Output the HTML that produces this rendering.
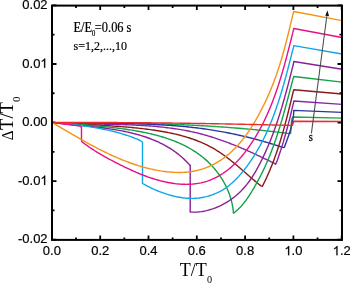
<!DOCTYPE html>
<html><head><meta charset="utf-8"><style>
html,body{margin:0;padding:0;background:#fff;}
body{width:350px;height:283px;overflow:hidden;position:relative;}
svg{position:absolute;left:0;top:0;will-change:transform;}
.sans{font-family:"Liberation Sans",sans-serif;font-size:13px;fill:#000;stroke:#000;stroke-width:0.2px;}
.serif{font-family:"Liberation Serif",serif;fill:#000;}
</style></head><body>
<svg width="350" height="283" viewBox="0 0 350 283">
<path d="M51.9,240V235.5M51.9,5.6V10.1M76.05,240V237.5M76.05,5.6V8.1M100.2,240V235.5M100.2,5.6V10.1M124.35,240V237.5M124.35,5.6V8.1M148.5,240V235.5M148.5,5.6V10.1M172.65,240V237.5M172.65,5.6V8.1M196.8,240V235.5M196.8,5.6V10.1M220.95,240V237.5M220.95,5.6V8.1M245.1,240V235.5M245.1,5.6V10.1M269.25,240V237.5M269.25,5.6V8.1M293.4,240V235.5M293.4,5.6V10.1M317.55,240V237.5M317.55,5.6V8.1M341.7,240V235.5M341.7,5.6V10.1M52,5.45H56.5M342,5.45H337.5M52,34.72H54.5M342,34.72H339.5M52,64H56.5M342,64H337.5M52,93.27H54.5M342,93.27H339.5M52,122.55H56.5M342,122.55H337.5M52,151.82H54.5M342,151.82H339.5M52,181.1H56.5M342,181.1H337.5M52,210.38H54.5M342,210.38H339.5M52,239.65H56.5M342,239.65H337.5" stroke="#000" stroke-width="1.8" fill="none"/>
<g fill="none" stroke-width="1.4" stroke-linejoin="round" stroke-linecap="butt">
<path d="M52.2,122.55 L53.7,122.71 L55.22,122.71 L56.73,122.7 L58.24,122.7 L59.75,122.7 L61.27,122.7 L62.78,122.69 L64.29,122.69 L65.8,122.69 L67.31,122.69 L68.83,122.69 L70.34,122.69 L71.85,122.69 L73.36,122.69 L74.88,122.69 L76.39,122.7 L77.9,122.7 L79.41,122.7 L80.92,122.71 L82.44,122.71 L83.95,122.71 L85.46,122.72 L86.97,122.72 L88.48,122.73 L90,122.74 L91.51,122.74 L93.02,122.75 L94.53,122.76 L96.04,122.77 L97.56,122.78 L99.07,122.79 L100.58,122.8 L102.09,122.81 L103.6,122.83 L105.12,122.84 L106.63,122.85 L108.14,122.87 L109.65,122.88 L111.16,122.9 L112.67,122.92 L114.19,122.93 L115.7,122.95 L117.21,122.97 L118.72,122.99 L120.23,123.01 L121.74,123.03 L123.26,123.06 L124.77,123.08 L126.28,123.1 L127.79,123.13 L129.3,123.16 L130.81,123.18 L132.32,123.21 L133.84,123.24 L135.35,123.27 L136.86,123.3 L138.37,123.33 L139.88,123.36 L141.39,123.4 L142.9,123.43 L144.41,123.47 L145.92,123.5 L147.43,123.54 L148.94,123.58 L150.46,123.62 L151.97,123.66 L153.48,123.7 L154.99,123.75 L156.5,123.79 L158.01,123.84 L159.52,123.88 L161.03,123.93 L162.54,123.98 L164.05,124.03 L165.56,124.08 L167.07,124.13 L168.58,124.19 L170.09,124.24 L171.6,124.3 L173.11,124.36 L174.62,124.41 L176.13,124.47 L177.64,124.54 L179.15,124.6 L180.66,124.66 L182.17,124.73 L183.67,124.79 L185.18,124.86 L186.69,124.93 L188.2,125 L189.71,125.07 L191.22,125.15 L192.73,125.22 L194.24,125.3 L195.75,125.38 L197.25,125.46 L198.76,125.54 L200.27,125.62 L201.78,125.7 L203.29,125.79 L204.8,125.87 L206.3,125.96 L207.81,126.05 L209.32,126.14 L210.83,126.24 L212.34,126.33 L213.84,126.43 L215.35,126.53 L216.86,126.62 L218.36,126.73 L219.87,126.83 L221.38,126.93 L222.89,127.04 L224.39,127.15 L225.9,127.26 L227.41,127.37 L228.91,127.48 L230.42,127.59 L231.93,127.71 L233.43,127.83 L234.94,127.95 L236.44,128.07 L237.95,128.19 L239.46,128.32 L240.96,128.44 L242.47,128.57 L243.97,128.7 L245.48,128.84 L246.98,128.97 L248.49,129.11 L249.99,129.24 L251.5,129.38 L253,129.53 L254.51,129.67 L256.01,129.82 L257.52,129.96 L259.02,130.11 L260.52,130.26 L262.03,130.42 L263.53,130.57 L265.04,130.73 L266.54,130.89 L268.04,131.05 L269.55,131.22 L271.05,131.38 L272.55,131.55 L274.06,131.72 L275.56,131.89 L277.06,132.07 L278.56,132.24 L280.07,132.42 L281.57,132.6 L283.07,132.79 L284.57,132.97 L286.07,133.16 L287.58,133.35 L289.08,133.54 L290.6,133.4 L291.6,120 L292.5,117.2 L293.8,117 L342,118.1" stroke="#1AA64A"/>
<path d="M52.2,122.55 L53.73,122.62 L55.24,122.67 L56.75,122.71 L58.25,122.74 L59.76,122.78 L61.27,122.82 L62.78,122.85 L64.29,122.88 L65.79,122.91 L67.3,122.94 L68.81,122.96 L70.32,122.99 L71.84,123.01 L73.35,123.03 L74.86,123.05 L76.37,123.07 L77.88,123.09 L79.4,123.11 L80.91,123.13 L82.42,123.15 L83.94,123.16 L85.45,123.18 L86.97,123.19 L88.48,123.21 L89.99,123.22 L91.51,123.23 L93.02,123.25 L94.54,123.26 L96.06,123.27 L97.57,123.29 L99.09,123.3 L100.6,123.31 L102.12,123.32 L103.64,123.34 L105.15,123.35 L106.67,123.37 L108.19,123.38 L109.7,123.4 L111.22,123.41 L112.74,123.43 L114.26,123.45 L115.77,123.47 L117.29,123.49 L118.81,123.51 L120.32,123.53 L121.84,123.56 L123.36,123.58 L124.88,123.61 L126.39,123.63 L127.91,123.66 L129.43,123.69 L130.94,123.73 L132.46,123.76 L133.98,123.8 L135.49,123.83 L137.01,123.87 L138.52,123.92 L140.04,123.96 L141.56,124.01 L143.07,124.05 L144.59,124.1 L146.1,124.16 L147.62,124.21 L149.13,124.27 L150.64,124.33 L152.16,124.4 L153.67,124.46 L155.19,124.53 L156.7,124.61 L158.21,124.68 L159.72,124.76 L161.24,124.84 L162.75,124.93 L164.26,125.02 L165.77,125.11 L167.28,125.2 L168.79,125.3 L170.3,125.41 L171.81,125.51 L173.32,125.62 L174.83,125.74 L176.33,125.86 L177.84,125.98 L179.35,126.11 L180.85,126.24 L182.36,126.37 L183.86,126.51 L185.37,126.66 L186.87,126.8 L188.38,126.96 L189.88,127.11 L191.38,127.28 L192.88,127.44 L194.38,127.62 L195.88,127.79 L197.38,127.98 L198.88,128.16 L200.38,128.36 L201.88,128.55 L203.37,128.76 L204.87,128.96 L206.36,129.18 L207.86,129.4 L209.35,129.62 L210.85,129.85 L212.34,130.08 L213.83,130.32 L215.32,130.57 L216.81,130.82 L218.3,131.07 L219.79,131.34 L221.27,131.6 L222.76,131.87 L224.25,132.15 L225.73,132.43 L227.21,132.72 L228.7,133.01 L230.18,133.31 L231.66,133.61 L233.14,133.92 L234.62,134.23 L236.1,134.55 L237.57,134.87 L239.05,135.2 L240.53,135.53 L242,135.87 L243.47,136.21 L244.95,136.56 L246.42,136.92 L247.89,137.28 L249.36,137.64 L250.82,138.01 L252.29,138.39 L253.76,138.77 L255.22,139.15 L256.69,139.54 L258.15,139.94 L259.61,140.34 L261.07,140.74 L262.53,141.15 L263.99,141.57 L265.44,141.99 L266.9,142.42 L268.35,142.85 L269.81,143.28 L271.26,143.72 L272.71,144.17 L274.16,144.62 L275.61,145.08 L277.06,145.54 L278.5,146.01 L279.95,146.48 L281.39,146.96 L282.83,147.44 L284.4,147.3 L284.92,145.79 L285.47,144.29 L286.02,142.8 L286.57,141.3 L287.12,139.8 L287.66,138.29 L288.2,136.79 L288.73,135.28 L289.24,133.77 L289.74,132.26 L290.22,130.74 L290.68,129.22 L291.12,127.69 L291.53,126.16 L291.92,124.62 L292.27,123.07 L292.6,121.52 L292.88,119.95 L293.13,118.38 L293.34,116.8 L293.5,115.21 L293.62,113.61 L293.69,112 L293.8,110.4 L342,112.4" stroke="#28379C"/>
<path d="M52.2,122.55 L53.75,122.51 L55.25,122.6 L56.75,122.7 L58.25,122.78 L59.75,122.87 L61.25,122.95 L62.75,123.02 L64.25,123.09 L65.76,123.16 L67.27,123.23 L68.77,123.29 L70.28,123.35 L71.79,123.4 L73.3,123.46 L74.81,123.51 L76.32,123.55 L77.84,123.6 L79.35,123.64 L80.87,123.68 L82.38,123.72 L83.9,123.76 L85.41,123.8 L86.93,123.83 L88.45,123.86 L89.97,123.9 L91.48,123.93 L93,123.96 L94.52,123.99 L96.04,124.02 L97.56,124.05 L99.08,124.07 L100.6,124.1 L102.13,124.13 L103.65,124.16 L105.17,124.19 L106.69,124.22 L108.21,124.25 L109.73,124.28 L111.26,124.32 L112.78,124.35 L114.3,124.39 L115.82,124.42 L117.34,124.46 L118.87,124.5 L120.39,124.55 L121.91,124.59 L123.43,124.64 L124.95,124.69 L126.47,124.74 L127.99,124.79 L129.51,124.85 L131.03,124.91 L132.55,124.98 L134.07,125.04 L135.59,125.11 L137.11,125.19 L138.62,125.27 L140.14,125.35 L141.65,125.44 L143.17,125.53 L144.68,125.62 L146.2,125.72 L147.71,125.83 L149.22,125.94 L150.73,126.05 L152.24,126.17 L153.75,126.29 L155.26,126.42 L156.77,126.56 L158.27,126.7 L159.78,126.85 L161.28,127 L162.79,127.16 L164.29,127.33 L165.79,127.51 L167.29,127.69 L168.79,127.87 L170.28,128.07 L171.78,128.27 L173.27,128.48 L174.77,128.69 L176.26,128.92 L177.75,129.15 L179.23,129.39 L180.72,129.64 L182.21,129.89 L183.69,130.16 L185.17,130.43 L186.65,130.71 L188.13,131 L189.61,131.3 L191.08,131.61 L192.55,131.93 L194.02,132.26 L195.49,132.59 L196.96,132.94 L198.43,133.3 L199.89,133.67 L201.35,134.04 L202.81,134.43 L204.27,134.83 L205.72,135.24 L207.17,135.65 L208.62,136.08 L210.07,136.51 L211.52,136.96 L212.96,137.41 L214.41,137.87 L215.85,138.34 L217.28,138.82 L218.72,139.31 L220.15,139.8 L221.59,140.31 L223.02,140.82 L224.44,141.33 L225.87,141.86 L227.29,142.39 L228.71,142.93 L230.13,143.48 L231.55,144.03 L232.96,144.59 L234.38,145.15 L235.79,145.72 L237.19,146.3 L238.6,146.88 L240,147.47 L241.4,148.06 L242.8,148.66 L244.2,149.26 L245.6,149.87 L246.99,150.48 L248.38,151.09 L249.77,151.71 L251.15,152.34 L252.54,152.97 L253.92,153.6 L255.3,154.23 L256.67,154.87 L258.05,155.52 L259.42,156.16 L260.79,156.81 L262.16,157.46 L263.53,158.11 L264.89,158.77 L266.25,159.42 L267.61,160.08 L268.96,160.74 L270.32,161.41 L271.67,162.07 L273.02,162.73 L274.37,163.4 L275.6,164.3 L276.32,162.89 L276.86,161.42 L277.4,159.95 L277.92,158.48 L278.44,157 L278.96,155.53 L279.46,154.04 L279.96,152.56 L280.45,151.07 L280.94,149.58 L281.42,148.08 L281.89,146.59 L282.36,145.09 L282.82,143.59 L283.28,142.09 L283.73,140.58 L284.17,139.07 L284.61,137.56 L285.05,136.05 L285.47,134.54 L285.9,133.03 L286.32,131.51 L286.73,129.99 L287.14,128.48 L287.55,126.96 L287.95,125.44 L288.34,123.91 L288.74,122.39 L289.13,120.87 L289.51,119.34 L289.89,117.82 L290.27,116.29 L290.64,114.77 L291.02,113.24 L291.38,111.71 L291.75,110.19 L292.11,108.66 L292.47,107.13 L292.83,105.61 L293.18,104.08 L293.54,102.55 L293.8,101 L342,104.4" stroke="#8A24A6"/>
<path d="M52.2,122.55 L53.73,122.49 L55.24,122.6 L56.74,122.71 L58.25,122.82 L59.76,122.93 L61.26,123.03 L62.77,123.13 L64.28,123.23 L65.78,123.32 L67.29,123.42 L68.8,123.51 L70.31,123.6 L71.81,123.69 L73.32,123.78 L74.83,123.86 L76.34,123.95 L77.84,124.03 L79.35,124.11 L80.86,124.19 L82.37,124.28 L83.88,124.36 L85.38,124.44 L86.89,124.52 L88.4,124.6 L89.91,124.68 L91.42,124.76 L92.92,124.84 L94.43,124.92 L95.94,125.01 L97.45,125.09 L98.96,125.17 L100.47,125.26 L101.97,125.35 L103.48,125.43 L104.99,125.52 L106.5,125.61 L108.01,125.71 L109.51,125.8 L111.02,125.9 L112.53,126 L114.04,126.1 L115.55,126.2 L117.06,126.31 L118.56,126.42 L120.07,126.53 L121.58,126.65 L123.09,126.77 L124.6,126.89 L126.1,127.02 L127.61,127.15 L129.12,127.28 L130.63,127.42 L132.14,127.56 L133.64,127.7 L135.15,127.85 L136.66,128.01 L138.17,128.16 L139.67,128.33 L141.18,128.5 L142.69,128.67 L144.2,128.85 L145.7,129.03 L147.21,129.22 L148.72,129.42 L150.23,129.62 L151.73,129.83 L153.24,130.04 L154.75,130.26 L156.25,130.49 L157.76,130.72 L159.26,130.96 L160.76,131.21 L162.26,131.47 L163.76,131.73 L165.26,132 L166.75,132.29 L168.24,132.58 L169.73,132.88 L171.22,133.19 L172.7,133.51 L174.18,133.84 L175.66,134.18 L177.13,134.53 L178.6,134.9 L180.07,135.27 L181.53,135.66 L182.98,136.06 L184.43,136.47 L185.88,136.89 L187.32,137.33 L188.76,137.78 L190.19,138.24 L191.61,138.72 L193.03,139.21 L194.44,139.72 L195.85,140.24 L197.25,140.77 L198.64,141.32 L200.03,141.89 L201.4,142.47 L202.77,143.07 L204.14,143.68 L205.49,144.31 L206.84,144.96 L208.18,145.63 L209.51,146.31 L210.83,147.01 L212.14,147.73 L213.44,148.46 L214.74,149.22 L216.02,150 L217.3,150.79 L218.56,151.6 L219.82,152.42 L221.07,153.27 L222.31,154.12 L223.54,154.99 L224.77,155.88 L225.99,156.78 L227.2,157.69 L228.41,158.61 L229.61,159.54 L230.81,160.48 L232,161.43 L233.18,162.38 L234.36,163.35 L235.53,164.32 L236.7,165.3 L237.87,166.28 L239.03,167.27 L240.19,168.26 L241.35,169.25 L242.5,170.25 L243.65,171.24 L244.8,172.24 L245.95,173.24 L247.1,174.23 L248.24,175.23 L249.39,176.22 L250.53,177.21 L251.67,178.19 L252.82,179.17 L253.96,180.15 L255.11,181.12 L256.25,182.08 L257.4,183.03 L258.55,183.98 L259.7,184.91 L260.85,185.84 L262.4,186.3 L263.05,184.91 L263.74,183.53 L264.43,182.14 L265.1,180.75 L265.77,179.35 L266.42,177.95 L267.07,176.55 L267.7,175.15 L268.33,173.74 L268.94,172.32 L269.55,170.91 L270.15,169.48 L270.74,168.06 L271.32,166.63 L271.89,165.2 L272.45,163.77 L273.01,162.34 L273.55,160.9 L274.09,159.45 L274.62,158.01 L275.15,156.56 L275.66,155.11 L276.17,153.66 L276.67,152.2 L277.17,150.75 L277.66,149.29 L278.14,147.82 L278.61,146.36 L279.08,144.89 L279.55,143.42 L280,141.95 L280.46,140.48 L280.9,139 L281.34,137.53 L281.78,136.05 L282.21,134.57 L282.64,133.09 L283.06,131.61 L283.48,130.12 L283.89,128.64 L284.3,127.15 L284.71,125.66 L285.11,124.17 L285.51,122.68 L285.9,121.19 L286.29,119.7 L286.68,118.21 L287.07,116.71 L287.45,115.22 L287.83,113.72 L288.21,112.23 L288.58,110.73 L288.96,109.24 L289.33,107.74 L289.7,106.24 L290.07,104.75 L290.44,103.25 L290.8,101.75 L291.17,100.25 L291.54,98.76 L291.9,97.26 L292.26,95.76 L292.63,94.27 L292.99,92.77 L293.36,91.28 L293.8,89.8 L342,94" stroke="#8B1A1A"/>
<path d="M52.2,122.55 L53.81,122.51 L55.32,122.63 L56.84,122.75 L58.35,122.87 L59.86,122.98 L61.36,123.1 L62.87,123.22 L64.38,123.33 L65.88,123.44 L67.38,123.56 L68.88,123.67 L70.39,123.78 L71.89,123.9 L73.38,124.01 L74.88,124.12 L76.38,124.24 L77.88,124.35 L79.38,124.47 L80.87,124.58 L82.37,124.7 L83.86,124.82 L85.36,124.94 L86.85,125.06 L88.35,125.18 L89.84,125.31 L91.34,125.43 L92.83,125.56 L94.32,125.69 L95.82,125.83 L97.31,125.96 L98.81,126.1 L100.3,126.24 L101.8,126.39 L103.3,126.54 L104.79,126.69 L106.29,126.84 L107.79,127 L109.29,127.16 L110.79,127.33 L112.29,127.5 L113.79,127.68 L115.29,127.86 L116.79,128.04 L118.3,128.23 L119.8,128.42 L121.31,128.62 L122.82,128.83 L124.33,129.04 L125.84,129.25 L127.35,129.47 L128.86,129.7 L130.37,129.93 L131.89,130.17 L133.4,130.42 L134.92,130.68 L136.43,130.94 L137.94,131.21 L139.46,131.48 L140.97,131.77 L142.48,132.06 L143.98,132.36 L145.49,132.68 L146.99,133 L148.49,133.33 L149.99,133.67 L151.48,134.02 L152.97,134.38 L154.46,134.75 L155.94,135.13 L157.42,135.53 L158.89,135.93 L160.36,136.35 L161.82,136.77 L163.28,137.22 L164.73,137.67 L166.18,138.13 L167.62,138.61 L169.05,139.11 L170.47,139.61 L171.89,140.13 L173.3,140.66 L174.71,141.21 L176.1,141.77 L177.49,142.35 L178.87,142.94 L180.24,143.55 L181.6,144.18 L182.95,144.82 L184.29,145.47 L185.62,146.15 L186.94,146.83 L188.25,147.54 L189.54,148.26 L190.83,149.01 L192.11,149.76 L193.37,150.54 L194.62,151.34 L195.86,152.15 L197.09,152.99 L198.3,153.84 L199.51,154.71 L200.69,155.6 L201.87,156.51 L203.03,157.44 L204.17,158.4 L205.3,159.37 L206.42,160.36 L207.52,161.38 L208.6,162.41 L209.67,163.47 L210.72,164.54 L211.76,165.63 L212.77,166.74 L213.77,167.87 L214.75,169.02 L215.71,170.19 L216.65,171.37 L217.58,172.57 L218.48,173.79 L219.36,175.02 L220.21,176.27 L221.05,177.53 L221.86,178.81 L222.65,180.11 L223.42,181.42 L224.17,182.74 L224.89,184.08 L225.58,185.43 L226.25,186.79 L226.9,188.17 L227.51,189.56 L228.11,190.96 L228.67,192.37 L229.21,193.8 L229.72,195.23 L230.2,196.68 L230.65,198.13 L231.08,199.6 L231.47,201.08 L231.84,202.56 L232.17,204.06 L232.47,205.56 L232.74,207.07 L232.98,208.59 L233.19,210.12 L233.36,211.66 L233.3,213 L234.75,212.29 L235.91,211.33 L237.03,210.34 L238.13,209.33 L239.19,208.28 L240.23,207.21 L241.24,206.12 L242.22,204.99 L243.18,203.85 L244.12,202.69 L245.03,201.5 L245.93,200.3 L246.81,199.08 L247.67,197.85 L248.51,196.6 L249.35,195.34 L250.16,194.07 L250.97,192.79 L251.77,191.5 L252.56,190.2 L253.34,188.9 L254.12,187.59 L254.88,186.27 L255.64,184.95 L256.39,183.62 L257.13,182.29 L257.86,180.95 L258.58,179.61 L259.29,178.26 L260,176.91 L260.7,175.55 L261.38,174.19 L262.06,172.82 L262.73,171.45 L263.39,170.08 L264.05,168.7 L264.69,167.32 L265.32,165.94 L265.95,164.55 L266.56,163.16 L267.17,161.77 L267.77,160.37 L268.36,158.97 L268.94,157.57 L269.51,156.17 L270.08,154.77 L270.64,153.36 L271.19,151.95 L271.73,150.53 L272.27,149.12 L272.8,147.7 L273.32,146.28 L273.84,144.86 L274.35,143.44 L274.85,142.01 L275.35,140.58 L275.84,139.15 L276.33,137.72 L276.81,136.28 L277.28,134.85 L277.75,133.41 L278.21,131.97 L278.67,130.53 L279.13,129.09 L279.57,127.64 L280.02,126.2 L280.46,124.75 L280.9,123.3 L281.33,121.85 L281.76,120.4 L282.18,118.94 L282.6,117.49 L283.02,116.03 L283.44,114.58 L283.85,113.12 L284.26,111.66 L284.66,110.2 L285.07,108.74 L285.47,107.28 L285.87,105.81 L286.27,104.35 L286.66,102.88 L287.06,101.42 L287.45,99.95 L287.84,98.49 L288.23,97.02 L288.62,95.55 L289.01,94.08 L289.4,92.62 L289.78,91.15 L290.17,89.68 L290.56,88.21 L290.94,86.74 L291.33,85.27 L291.72,83.8 L292.11,82.33 L292.5,80.86 L292.89,79.39 L293.28,77.92 L293.8,76.5 L342,82.1" stroke="#12A04A"/>
<path d="M52.2,122.55 L53.82,122.52 L55.28,122.7 L56.75,122.88 L58.22,123.06 L59.69,123.23 L61.18,123.4 L62.66,123.56 L64.15,123.73 L65.65,123.89 L67.14,124.04 L68.64,124.2 L70.15,124.36 L71.66,124.51 L73.17,124.66 L74.68,124.81 L76.2,124.97 L77.72,125.12 L79.24,125.27 L80.76,125.42 L82.28,125.58 L83.81,125.73 L85.34,125.89 L86.87,126.05 L88.4,126.21 L89.93,126.37 L91.46,126.53 L93,126.7 L94.53,126.88 L96.06,127.05 L97.6,127.23 L99.13,127.42 L100.66,127.61 L102.19,127.8 L103.73,128 L105.26,128.21 L106.79,128.42 L108.31,128.63 L109.84,128.86 L111.37,129.09 L112.89,129.33 L114.41,129.57 L115.93,129.83 L117.45,130.09 L118.96,130.36 L120.47,130.64 L121.98,130.92 L123.48,131.22 L124.99,131.53 L126.48,131.84 L127.98,132.17 L129.47,132.51 L130.95,132.86 L132.44,133.22 L133.91,133.59 L135.39,133.97 L136.86,134.36 L138.32,134.77 L139.78,135.19 L141.23,135.63 L142.67,136.07 L144.11,136.53 L145.55,137.01 L146.98,137.5 L148.4,138 L149.81,138.52 L151.22,139.05 L152.62,139.61 L154.01,140.17 L155.4,140.76 L156.77,141.36 L158.14,141.98 L159.5,142.61 L160.85,143.27 L162.19,143.94 L163.52,144.63 L164.85,145.34 L166.16,146.07 L167.46,146.82 L168.75,147.59 L170.03,148.38 L171.3,149.2 L172.56,150.03 L173.81,150.88 L175.04,151.76 L176.27,152.66 L177.48,153.58 L178.68,154.53 L179.87,155.5 L181.04,156.49 L182.2,157.51 L183.35,158.55 L184.48,159.62 L185.6,160.71 L186.71,161.83 L187.8,162.98 L188.88,164.15 L189.8,165.3 L190.2,165.3 L190.2,212 L191.73,212.14 L193.24,212.16 L194.76,212.15 L196.28,212.09 L197.79,211.99 L199.3,211.85 L200.81,211.67 L202.31,211.45 L203.81,211.19 L205.3,210.89 L206.79,210.56 L208.27,210.19 L209.74,209.79 L211.2,209.35 L212.66,208.88 L214.1,208.37 L215.53,207.83 L216.95,207.26 L218.36,206.66 L219.76,206.02 L221.14,205.36 L222.51,204.66 L223.86,203.94 L225.2,203.19 L226.52,202.41 L227.83,201.6 L229.11,200.77 L230.38,199.91 L231.63,199.02 L232.85,198.12 L234.06,197.18 L235.25,196.23 L236.41,195.25 L237.55,194.25 L238.68,193.23 L239.78,192.19 L240.86,191.13 L241.91,190.05 L242.95,188.94 L243.97,187.82 L244.97,186.69 L245.94,185.53 L246.9,184.36 L247.83,183.17 L248.75,181.96 L249.64,180.74 L250.52,179.51 L251.37,178.26 L252.21,176.99 L253.03,175.72 L253.83,174.43 L254.61,173.13 L255.38,171.82 L256.14,170.51 L256.88,169.18 L257.61,167.85 L258.34,166.51 L259.05,165.17 L259.75,163.82 L260.45,162.47 L261.13,161.12 L261.81,159.76 L262.48,158.39 L263.14,157.02 L263.79,155.65 L264.44,154.28 L265.07,152.9 L265.7,151.51 L266.32,150.12 L266.93,148.73 L267.54,147.34 L268.13,145.94 L268.72,144.54 L269.31,143.13 L269.88,141.72 L270.45,140.31 L271.01,138.89 L271.57,137.48 L272.12,136.06 L272.66,134.63 L273.19,133.2 L273.72,131.78 L274.24,130.34 L274.76,128.91 L275.27,127.47 L275.78,126.03 L276.27,124.59 L276.77,123.15 L277.26,121.7 L277.74,120.25 L278.22,118.8 L278.69,117.35 L279.16,115.9 L279.62,114.44 L280.08,112.98 L280.53,111.52 L280.98,110.06 L281.42,108.6 L281.86,107.14 L282.29,105.67 L282.73,104.21 L283.15,102.74 L283.58,101.28 L284,99.81 L284.41,98.34 L284.82,96.87 L285.23,95.4 L285.64,93.93 L286.04,92.45 L286.44,90.98 L286.84,89.51 L287.23,88.04 L287.62,86.56 L288.01,85.09 L288.4,83.62 L288.78,82.14 L289.16,80.67 L289.54,79.2 L289.92,77.73 L290.29,76.25 L290.67,74.78 L291.04,73.31 L291.41,71.84 L291.78,70.37 L292.14,68.9 L292.51,67.43 L292.88,65.97 L293.24,64.5 L293.6,63.04 L293.8,61.5 L342,69.3" stroke="#8A2093"/>
<path d="M52.2,122.55 L53.74,122.6 L55.25,122.74 L56.75,122.89 L58.26,123.04 L59.77,123.19 L61.28,123.34 L62.79,123.5 L64.3,123.65 L65.82,123.81 L67.33,123.97 L68.85,124.13 L70.37,124.29 L71.88,124.46 L73.4,124.64 L74.92,124.81 L76.44,124.99 L77.96,125.18 L79.47,125.37 L80.99,125.56 L82.51,125.76 L84.03,125.96 L85.54,126.17 L87.06,126.39 L88.57,126.61 L90.08,126.84 L91.6,127.08 L93.11,127.32 L94.62,127.57 L96.12,127.83 L97.63,128.09 L99.14,128.37 L100.64,128.65 L102.14,128.94 L103.64,129.24 L105.13,129.55 L106.62,129.86 L108.11,130.19 L109.6,130.53 L111.09,130.88 L112.57,131.23 L114.05,131.6 L115.52,131.98 L116.99,132.37 L118.46,132.78 L119.93,133.19 L121.39,133.62 L122.84,134.05 L124.29,134.51 L125.74,134.97 L127.19,135.45 L128.63,135.94 L130.06,136.44 L131.49,136.96 L132.91,137.49 L134.33,138.04 L135.75,138.6 L137.16,139.18 L138.56,139.77 L139.96,140.37 L141.2,141.3 L142.5,142.3 L142.5,183.5 L143.86,184.2 L145.16,184.9 L146.47,185.59 L147.79,186.28 L149.12,186.95 L150.47,187.62 L151.83,188.27 L153.21,188.91 L154.59,189.53 L155.99,190.14 L157.4,190.74 L158.81,191.32 L160.24,191.88 L161.68,192.43 L163.12,192.95 L164.57,193.46 L166.04,193.95 L167.5,194.41 L168.98,194.86 L170.46,195.28 L171.94,195.68 L173.43,196.05 L174.93,196.4 L176.43,196.73 L177.93,197.02 L179.44,197.29 L180.95,197.53 L182.46,197.75 L183.97,197.93 L185.49,198.08 L187,198.2 L188.52,198.29 L190.03,198.35 L191.55,198.37 L193.06,198.36 L194.57,198.31 L196.08,198.22 L197.58,198.1 L199.08,197.94 L200.58,197.74 L202.08,197.51 L203.56,197.23 L205.04,196.92 L206.52,196.57 L207.98,196.18 L209.44,195.75 L210.88,195.29 L212.31,194.79 L213.73,194.25 L215.14,193.68 L216.53,193.08 L217.9,192.44 L219.26,191.76 L220.6,191.05 L221.92,190.31 L223.22,189.54 L224.49,188.73 L225.75,187.89 L226.98,187.02 L228.19,186.12 L229.38,185.19 L230.55,184.23 L231.7,183.25 L232.83,182.24 L233.94,181.21 L235.03,180.16 L236.11,179.09 L237.16,178 L238.2,176.89 L239.23,175.77 L240.23,174.63 L241.23,173.48 L242.2,172.31 L243.17,171.14 L244.12,169.95 L245.06,168.76 L245.98,167.56 L246.89,166.35 L247.79,165.14 L248.68,163.91 L249.56,162.68 L250.42,161.44 L251.27,160.19 L252.11,158.94 L252.94,157.68 L253.75,156.41 L254.56,155.13 L255.35,153.85 L256.13,152.56 L256.9,151.26 L257.66,149.96 L258.41,148.65 L259.15,147.33 L259.88,146.01 L260.6,144.68 L261.31,143.35 L262.01,142.01 L262.69,140.66 L263.37,139.31 L264.04,137.95 L264.7,136.59 L265.35,135.22 L266,133.85 L266.63,132.47 L267.25,131.09 L267.87,129.71 L268.48,128.31 L269.08,126.92 L269.67,125.52 L270.25,124.12 L270.82,122.71 L271.39,121.3 L271.95,119.88 L272.5,118.46 L273.05,117.04 L273.59,115.61 L274.12,114.19 L274.64,112.75 L275.16,111.32 L275.67,109.88 L276.17,108.44 L276.67,107 L277.16,105.55 L277.65,104.1 L278.13,102.65 L278.6,101.2 L279.07,99.75 L279.53,98.29 L279.99,96.83 L280.44,95.37 L280.89,93.91 L281.33,92.45 L281.77,90.98 L282.21,89.52 L282.64,88.05 L283.06,86.59 L283.48,85.12 L283.9,83.65 L284.31,82.18 L284.72,80.72 L285.13,79.25 L285.53,77.78 L285.93,76.31 L286.33,74.84 L286.72,73.37 L287.11,71.9 L287.5,70.44 L287.89,68.97 L288.27,67.5 L288.65,66.04 L289.03,64.58 L289.41,63.11 L289.79,61.65 L290.16,60.19 L290.53,58.73 L290.91,57.28 L291.28,55.82 L291.65,54.37 L292.01,52.92 L292.38,51.47 L292.75,50.03 L293.12,48.58 L293.48,47.14 L293.8,45.6 L342,54" stroke="#0EA8E4"/>
<path d="M52.2,122.55 L53.81,122.76 L55.42,122.96 L57.03,123.17 L58.65,123.37 L60.26,123.57 L61.87,123.78 L63.48,123.98 L65.09,124.19 L66.7,124.39 L68.32,124.59 L69.93,124.79 L71.54,125 L73.15,125.2 L74.76,125.4 L76.38,125.6 L77.99,125.8 L79.6,126 L81.5,127.3 L81.5,141 L82.45,142.22 L83.65,143.13 L84.86,144.02 L86.08,144.9 L87.31,145.77 L88.54,146.63 L89.78,147.48 L91.02,148.31 L92.28,149.13 L93.53,149.95 L94.8,150.75 L96.07,151.55 L97.34,152.33 L98.63,153.11 L99.91,153.88 L101.21,154.64 L102.5,155.39 L103.81,156.13 L105.11,156.87 L106.42,157.6 L107.74,158.32 L109.06,159.04 L110.39,159.75 L111.72,160.46 L113.05,161.16 L114.39,161.86 L115.73,162.55 L117.07,163.24 L118.42,163.92 L119.76,164.61 L121.12,165.28 L122.47,165.95 L123.83,166.62 L125.2,167.28 L126.56,167.94 L127.93,168.59 L129.31,169.23 L130.68,169.87 L132.07,170.5 L133.45,171.12 L134.84,171.73 L136.23,172.34 L137.63,172.93 L139.03,173.51 L140.44,174.09 L141.85,174.65 L143.26,175.21 L144.68,175.75 L146.1,176.28 L147.53,176.79 L148.96,177.3 L150.4,177.79 L151.84,178.27 L153.29,178.73 L154.74,179.18 L156.2,179.62 L157.66,180.04 L159.13,180.44 L160.6,180.83 L162.08,181.2 L163.56,181.55 L165.05,181.89 L166.54,182.2 L168.04,182.5 L169.54,182.78 L171.04,183.03 L172.54,183.27 L174.04,183.48 L175.55,183.68 L177.06,183.84 L178.56,183.99 L180.07,184.11 L181.58,184.2 L183.08,184.27 L184.59,184.31 L186.09,184.33 L187.58,184.31 L189.08,184.27 L190.57,184.2 L192.06,184.1 L193.54,183.97 L195.02,183.81 L196.5,183.61 L197.96,183.38 L199.42,183.12 L200.88,182.83 L202.32,182.5 L203.76,182.14 L205.19,181.74 L206.62,181.3 L208.03,180.83 L209.43,180.32 L210.82,179.78 L212.2,179.21 L213.57,178.6 L214.93,177.97 L216.27,177.3 L217.6,176.6 L218.92,175.87 L220.22,175.11 L221.5,174.33 L222.77,173.51 L224.03,172.67 L225.27,171.81 L226.48,170.91 L227.69,170 L228.87,169.06 L230.04,168.09 L231.19,167.11 L232.32,166.1 L233.43,165.07 L234.53,164.02 L235.62,162.96 L236.68,161.87 L237.74,160.77 L238.77,159.65 L239.79,158.52 L240.8,157.37 L241.79,156.2 L242.77,155.03 L243.73,153.84 L244.68,152.63 L245.62,151.42 L246.54,150.2 L247.45,148.97 L248.34,147.73 L249.23,146.48 L250.1,145.22 L250.95,143.96 L251.8,142.7 L252.63,141.42 L253.45,140.14 L254.26,138.86 L255.06,137.57 L255.85,136.28 L256.62,134.98 L257.39,133.67 L258.14,132.36 L258.88,131.05 L259.61,129.73 L260.33,128.4 L261.05,127.07 L261.75,125.74 L262.44,124.4 L263.12,123.06 L263.79,121.71 L264.45,120.36 L265.1,119 L265.74,117.64 L266.38,116.27 L267,114.9 L267.62,113.53 L268.23,112.15 L268.82,110.77 L269.41,109.39 L270,108 L270.57,106.61 L271.14,105.22 L271.69,103.82 L272.24,102.42 L272.79,101.01 L273.32,99.6 L273.85,98.19 L274.37,96.78 L274.89,95.36 L275.4,93.94 L275.9,92.52 L276.4,91.1 L276.88,89.67 L277.37,88.24 L277.84,86.81 L278.32,85.37 L278.78,83.93 L279.24,82.5 L279.7,81.06 L280.15,79.61 L280.59,78.17 L281.03,76.72 L281.47,75.27 L281.9,73.82 L282.33,72.37 L282.75,70.92 L283.17,69.46 L283.58,68.01 L283.99,66.55 L284.4,65.09 L284.8,63.64 L285.2,62.18 L285.6,60.71 L285.99,59.25 L286.38,57.79 L286.77,56.33 L287.16,54.86 L287.54,53.4 L287.92,51.94 L288.3,50.47 L288.68,49.01 L289.06,47.54 L289.43,46.08 L289.8,44.61 L290.17,43.15 L290.54,41.68 L290.91,40.22 L291.28,38.75 L291.65,37.29 L292.01,35.83 L292.38,34.36 L292.75,32.9 L293.11,31.44 L293.48,29.98 L293.8,28.5 L342,37.5" stroke="#E8108A"/>
<path d="M52.2,122.55 L53.63,123.39 L54.89,124.14 L56.16,124.88 L57.42,125.63 L58.7,126.38 L59.97,127.13 L61.24,127.88 L62.52,128.64 L63.8,129.39 L65.08,130.15 L66.37,130.9 L67.65,131.66 L68.94,132.42 L70.24,133.17 L71.53,133.93 L72.83,134.68 L74.13,135.44 L75.43,136.19 L76.73,136.94 L78.04,137.69 L79.35,138.44 L80.66,139.19 L81.98,139.93 L83.3,140.67 L84.62,141.41 L85.94,142.14 L87.27,142.88 L88.6,143.61 L89.93,144.33 L91.26,145.05 L92.6,145.77 L93.94,146.48 L95.28,147.19 L96.63,147.89 L97.98,148.59 L99.33,149.29 L100.69,149.97 L102.04,150.66 L103.4,151.33 L104.77,152 L106.13,152.67 L107.5,153.32 L108.87,153.97 L110.25,154.62 L111.63,155.25 L113.01,155.88 L114.39,156.5 L115.78,157.11 L117.17,157.72 L118.57,158.31 L119.96,158.9 L121.36,159.48 L122.77,160.05 L124.17,160.61 L125.58,161.16 L127,161.7 L128.41,162.23 L129.83,162.75 L131.26,163.26 L132.68,163.76 L134.11,164.24 L135.55,164.72 L136.98,165.18 L138.42,165.64 L139.87,166.08 L141.31,166.51 L142.76,166.92 L144.22,167.33 L145.67,167.72 L147.13,168.1 L148.6,168.46 L150.07,168.81 L151.54,169.15 L153.01,169.48 L154.49,169.78 L155.97,170.08 L157.46,170.36 L158.95,170.63 L160.44,170.88 L161.94,171.11 L163.44,171.33 L164.94,171.53 L166.44,171.72 L167.95,171.89 L169.46,172.03 L170.97,172.16 L172.48,172.27 L173.99,172.36 L175.5,172.42 L177.01,172.47 L178.52,172.48 L180.03,172.48 L181.54,172.45 L183.04,172.39 L184.54,172.31 L186.03,172.2 L187.53,172.07 L189.01,171.9 L190.5,171.71 L191.98,171.48 L193.45,171.23 L194.91,170.95 L196.37,170.64 L197.82,170.3 L199.27,169.93 L200.7,169.53 L202.13,169.1 L203.54,168.64 L204.95,168.15 L206.34,167.64 L207.73,167.09 L209.1,166.52 L210.46,165.91 L211.81,165.28 L213.14,164.62 L214.46,163.93 L215.77,163.21 L217.06,162.46 L218.34,161.69 L219.61,160.89 L220.86,160.07 L222.1,159.22 L223.32,158.35 L224.53,157.46 L225.72,156.54 L226.9,155.6 L228.07,154.65 L229.22,153.67 L230.35,152.67 L231.47,151.65 L232.58,150.62 L233.66,149.57 L234.74,148.5 L235.8,147.41 L236.84,146.31 L237.87,145.2 L238.88,144.07 L239.87,142.93 L240.85,141.77 L241.82,140.6 L242.77,139.42 L243.71,138.23 L244.63,137.02 L245.54,135.81 L246.44,134.58 L247.32,133.35 L248.19,132.1 L249.05,130.84 L249.9,129.58 L250.73,128.31 L251.55,127.03 L252.36,125.74 L253.17,124.44 L253.95,123.14 L254.73,121.83 L255.5,120.52 L256.26,119.2 L257.01,117.88 L257.75,116.55 L258.48,115.22 L259.21,113.88 L259.92,112.54 L260.63,111.2 L261.33,109.86 L262.02,108.51 L262.7,107.16 L263.37,105.81 L264.04,104.46 L264.69,103.1 L265.34,101.74 L265.98,100.37 L266.62,99.01 L267.24,97.64 L267.86,96.27 L268.47,94.89 L269.07,93.52 L269.67,92.14 L270.25,90.76 L270.83,89.37 L271.4,87.98 L271.97,86.59 L272.52,85.2 L273.07,83.8 L273.62,82.41 L274.15,81.01 L274.68,79.6 L275.2,78.2 L275.71,76.79 L276.21,75.38 L276.71,73.96 L277.2,72.55 L277.68,71.13 L278.16,69.7 L278.63,68.28 L279.09,66.85 L279.55,65.42 L280,63.99 L280.44,62.56 L280.88,61.12 L281.31,59.68 L281.74,58.24 L282.16,56.8 L282.57,55.36 L282.98,53.91 L283.39,52.46 L283.79,51.01 L284.18,49.56 L284.58,48.11 L284.97,46.65 L285.35,45.2 L285.73,43.74 L286.11,42.28 L286.48,40.82 L286.86,39.36 L287.23,37.9 L287.59,36.43 L287.96,34.97 L288.32,33.5 L288.68,32.03 L289.04,30.57 L289.39,29.1 L289.75,27.63 L290.11,26.16 L290.46,24.69 L290.81,23.22 L291.17,21.75 L291.52,20.27 L291.87,18.8 L292.22,17.33 L292.58,15.86 L292.93,14.38 L293.29,12.91 L293.8,11.5 L342,20.6" stroke="#F59318"/>
<path d="M52.2,122.55 L53.71,122.6 L55.22,122.59 L56.73,122.58 L58.24,122.57 L59.75,122.57 L61.27,122.56 L62.78,122.55 L64.29,122.55 L65.8,122.54 L67.31,122.53 L68.82,122.53 L70.33,122.52 L71.84,122.52 L73.35,122.52 L74.86,122.51 L76.37,122.51 L77.89,122.51 L79.4,122.5 L80.91,122.5 L82.42,122.5 L83.93,122.5 L85.44,122.5 L86.95,122.5 L88.46,122.5 L89.97,122.5 L91.48,122.5 L92.99,122.5 L94.51,122.5 L96.02,122.51 L97.53,122.51 L99.04,122.51 L100.55,122.51 L102.06,122.52 L103.57,122.52 L105.08,122.53 L106.59,122.53 L108.1,122.54 L109.61,122.54 L111.12,122.55 L112.64,122.55 L114.15,122.56 L115.66,122.57 L117.17,122.57 L118.68,122.58 L120.19,122.59 L121.7,122.6 L123.21,122.61 L124.72,122.62 L126.23,122.62 L127.74,122.63 L129.25,122.64 L130.77,122.66 L132.28,122.67 L133.79,122.68 L135.3,122.69 L136.81,122.7 L138.32,122.71 L139.83,122.73 L141.34,122.74 L142.85,122.75 L144.36,122.76 L145.87,122.78 L147.38,122.79 L148.89,122.81 L150.41,122.82 L151.92,122.84 L153.43,122.85 L154.94,122.87 L156.45,122.88 L157.96,122.9 L159.47,122.92 L160.98,122.93 L162.49,122.95 L164,122.97 L165.51,122.99 L167.02,123.01 L168.53,123.02 L170.04,123.04 L171.56,123.06 L173.07,123.08 L174.58,123.1 L176.09,123.12 L177.6,123.14 L179.11,123.16 L180.62,123.18 L182.13,123.21 L183.64,123.23 L185.15,123.25 L186.66,123.27 L188.17,123.29 L189.68,123.32 L191.19,123.34 L192.71,123.36 L194.22,123.39 L195.73,123.41 L197.24,123.43 L198.75,123.46 L200.26,123.48 L201.77,123.51 L203.28,123.53 L204.79,123.56 L206.3,123.58 L207.81,123.61 L209.32,123.64 L210.83,123.66 L212.34,123.69 L213.85,123.72 L215.36,123.74 L216.87,123.77 L218.39,123.8 L219.9,123.83 L221.41,123.85 L222.92,123.88 L224.43,123.91 L225.94,123.94 L227.45,123.97 L228.96,124 L230.47,124.03 L231.98,124.06 L233.49,124.09 L235,124.12 L236.51,124.15 L238.02,124.18 L239.53,124.21 L241.04,124.24 L242.55,124.27 L244.06,124.3 L245.57,124.34 L247.09,124.37 L248.6,124.4 L250.11,124.43 L251.62,124.47 L253.13,124.5 L254.64,124.53 L256.15,124.57 L257.66,124.6 L259.17,124.63 L260.68,124.67 L262.19,124.7 L263.7,124.74 L265.21,124.77 L266.72,124.81 L268.23,124.84 L269.74,124.88 L271.25,124.91 L272.76,124.95 L274.27,124.98 L275.78,125.02 L277.29,125.05 L278.8,125.09 L280.31,125.13 L281.83,125.16 L283.34,125.2 L284.85,125.24 L286.36,125.27 L287.87,125.31 L289.38,125.35 L290.89,125.39 L292.4,125.3 L293.8,121.3 L342,121.5" stroke="#EE2A2A"/>
</g>
<rect x="52" y="5.6" width="290" height="234.3" fill="none" stroke="#000" stroke-width="2"/>
<g class="sans"><text x="42.86" y="255.3">0.0</text><text x="91.16" y="255.3">0.2</text><text x="139.46" y="255.3">0.4</text><text x="187.76" y="255.3">0.6</text><text x="236.06" y="255.3">0.8</text><text x="284.36" y="255.3">&#8199;.0</text><text x="332.66" y="255.3">&#8199;.2</text><text x="22.30" y="9.25">0.02</text><text x="22.30" y="67.8">0.0&#8199;</text><text x="22.30" y="126.35">0.00</text><text x="17.97" y="184.9">-0.0&#8199;</text><text x="17.97" y="243.45">-0.02</text></g>
<g fill="#000" stroke="#000" stroke-width="30"><path transform="translate(284.36,255.3) scale(0.006348,-0.006348)" d="M763,0L583,0L583,1147Q518,1085 412,1023Q306,961 222,930L222,1104Q373,1175 486,1276Q599,1377 646,1472L763,1472Z"/><path transform="translate(332.66,255.3) scale(0.006348,-0.006348)" d="M763,0L583,0L583,1147Q518,1085 412,1023Q306,961 222,930L222,1104Q373,1175 486,1276Q599,1377 646,1472L763,1472Z"/><path transform="translate(40.37,67.8) scale(0.006348,-0.006348)" d="M763,0L583,0L583,1147Q518,1085 412,1023Q306,961 222,930L222,1104Q373,1175 486,1276Q599,1377 646,1472L763,1472Z"/><path transform="translate(40.37,184.9) scale(0.006348,-0.006348)" d="M763,0L583,0L583,1147Q518,1085 412,1023Q306,961 222,930L222,1104Q373,1175 486,1276Q599,1377 646,1472L763,1472Z"/></g>
<g class="serif">
<text transform="translate(179.7,275.5) scale(1.025,1.03)" font-size="17.6">T/T</text><text transform="translate(207.1,282.7) scale(0.93,1)" font-size="11">0</text>
<g transform="translate(13.3,140.2) rotate(-90)"><text transform="scale(0.93,1)" font-size="16.5">&#916;</text><text transform="translate(10.3,0) scale(1.03,1)" font-size="18">T/T</text><text transform="translate(38.2,6.6)" font-size="11">0</text></g>
<text transform="translate(73.5,31.8) scale(1.0,1.1)" font-size="12.4" stroke="#000" stroke-width="0.2">E/E<tspan font-size="6.6" dy="3.7">0</tspan><tspan dy="-3.7" dx="-0.5">=0.06 s</tspan></text>
<text transform="translate(73.6,49.5) scale(0.97,1.06)" font-size="12.4" stroke="#000" stroke-width="0.2">s=1,2,...,10</text>
<text transform="translate(308.7,140.6) scale(0.88,1.05)" font-size="12" stroke="#000" stroke-width="0.25">s</text>
</g>
<path d="M311.4,133.4L326.8,16.2" stroke="#4a4a4a" stroke-width="1.05" fill="none"/>
<path d="M327.4,10.3L329.1,16.2L325.3,15.7Z" fill="#111"/>
</svg>
</body></html>
